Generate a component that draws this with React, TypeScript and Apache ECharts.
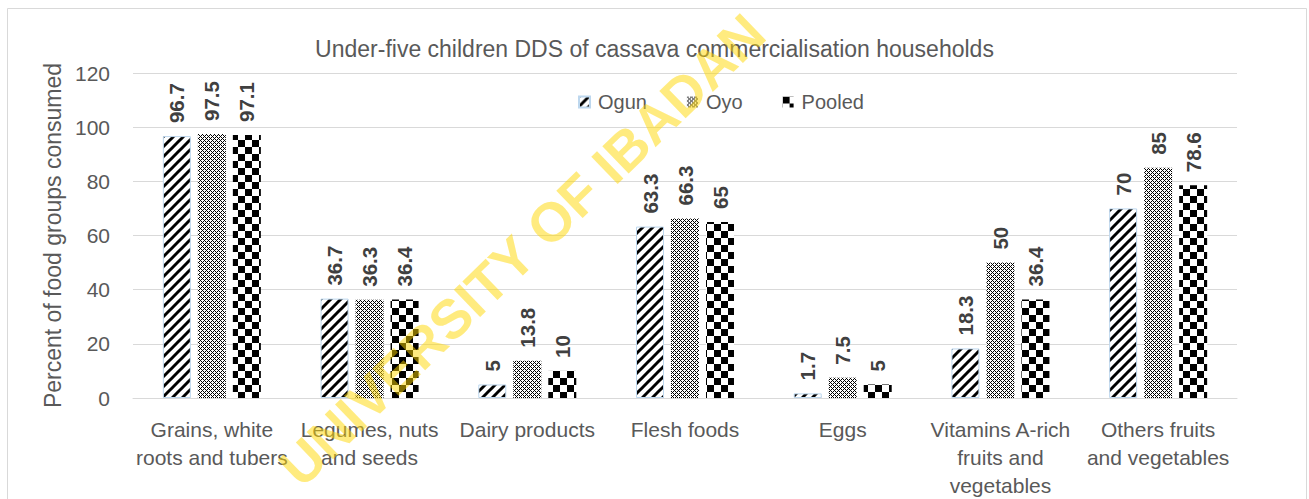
import React, { useEffect, useRef } from "react";
import * as echarts from "echarts";

const categories = [
  "Grains, white\nroots and tubers",
  "Legumes, nuts\nand seeds",
  "Dairy products",
  "Flesh foods",
  "Eggs",
  "Vitamins A-rich\nfruits and\nvegetables",
  "Others fruits\nand vegetables",
];
const seriesNames = ["Ogun", "Oyo", "Pooled"];
const ogun = [96.7, 36.7, 5, 63.3, 1.7, 18.3, 70];
const oyo = [97.5, 36.3, 13.8, 66.3, 7.5, 50, 85];
const pooled = [97.1, 36.4, 10, 65, 5, 36.4, 78.6];
const yTicks = { min: 0, max: 120, interval: 20 };

const TEXT = "#595959";
const FONT = "Liberation Sans";

function stripeTile(): string {
  const c = document.createElement("canvas");
  c.width = 10;
  c.height = 10;
  const g = c.getContext("2d")!;
  g.fillStyle = "#fff";
  g.fillRect(0, 0, 10, 10);
  g.strokeStyle = "#000";
  g.lineWidth = 3;
  for (const o of [-10, 0, 10]) {
    g.beginPath();
    g.moveTo(o - 2, 12);
    g.lineTo(o + 12, -2);
    g.stroke();
  }
  return c.toDataURL();
}

function dotTile(): string {
  const c = document.createElement("canvas");
  c.width = 4;
  c.height = 4;
  const g = c.getContext("2d")!;
  g.fillStyle = "#fff";
  g.fillRect(0, 0, 4, 4);
  g.fillStyle = "#000";
  for (let y = 0; y < 4; y++)
    for (let x = 0; x < 4; x++)
      if ((x + y) % 4 === 0 || (x - y + 4) % 4 === 0) g.fillRect(x, y, 1, 1);
  return c.toDataURL();
}

function checkerTile(): string {
  const s = 7;
  const c = document.createElement("canvas");
  c.width = 2 * s;
  c.height = 2 * s;
  const g = c.getContext("2d")!;
  g.fillStyle = "#fff";
  g.fillRect(0, 0, 2 * s, 2 * s);
  g.fillStyle = "#000";
  g.fillRect(0, 0, s, s);
  g.fillRect(s, s, s, s);
  return c.toDataURL();
}

export default function App() {
  const ref = useRef<HTMLDivElement>(null);
  useEffect(() => {
    if (!ref.current) return;
    const chart = echarts.init(ref.current, null, { renderer: "svg" });
    const patterns = [
      { image: stripeTile(), repeat: "repeat" },
      { image: dotTile(), repeat: "repeat" },
      { image: checkerTile(), repeat: "repeat" },
    ];
    const datasets = [ogun, oyo, pooled];
    const labelStyle = {
      show: true,
      position: "top",
      rotate: 90,
      align: "left",
      verticalAlign: "middle",
      distance: 13,
      fontWeight: "bold",
      fontSize: 20.5,
      fontFamily: FONT,
      color: "#404040",
    };
    chart.setOption({
      animation: false,
      backgroundColor: "#fff",
      title: {
        text: "Under-five children DDS of cassava commercialisation households",
        left: "center",
        top: 32,
        textStyle: { fontSize: 23, fontWeight: "normal", color: TEXT, fontFamily: FONT },
      },
      legend: {
        data: seriesNames,
        left: 573,
        top: 87,
        itemWidth: 11,
        itemHeight: 11,
        itemGap: 40,
        icon: "rect",
        textStyle: { fontSize: 20, color: TEXT, fontFamily: FONT, padding: [0, 0, 0, 3] },
      },
      grid: { left: 133, right: 72, top: 73, bottom: 99, containLabel: false },
      xAxis: {
        type: "category",
        data: categories,
        axisLine: { lineStyle: { color: "#D9D9D9", width: 1 } },
        axisTick: { show: false },
        axisLabel: {
          interval: 0,
          margin: 17,
          fontSize: 21,
          lineHeight: 28,
          color: TEXT,
          fontFamily: FONT,
        },
      },
      yAxis: {
        type: "value",
        ...yTicks,
        name: "Percent of food groups consumed",
        nameLocation: "middle",
        nameGap: 64,
        nameTextStyle: { fontSize: 23, color: TEXT, fontFamily: FONT },
        axisLine: { show: false },
        axisTick: { show: false },
        splitLine: { lineStyle: { color: "#D9D9D9", width: 1 } },
        axisLabel: { margin: 23, fontSize: 21, color: TEXT, fontFamily: FONT },
      },
      series: seriesNames.map((name, i) => ({
        name,
        type: "bar",
        data: datasets[i],
        barWidth: 28,
        barGap: "25%",
        itemStyle:
          i === 0
            ? { color: patterns[i], borderColor: "#BDD7EE", borderWidth: 1 }
            : { color: patterns[i] },
        label: labelStyle,
      })),
      graphic: [
        {
          type: "rect",
          shape: { x: 7.5, y: 8.5, width: 1299, height: 500 },
          style: { fill: "none", stroke: "#D9D9D9", lineWidth: 1 },
          silent: true,
          z: -1,
        },
        {
          type: "text",
          x: 522,
          y: 250,
          rotation: (44 * Math.PI) / 180,
          style: {
            text: "UNIVERSITY OF IBADAN",
            fill: "#FFD700",
            opacity: 0.5,
            fontSize: 55,
            fontWeight: "bold",
            fontFamily: FONT,
            align: "center",
            verticalAlign: "middle",
          },
          silent: true,
          z: 100,
        },
      ],
    });
    return () => chart.dispose();
  }, []);
  return (
    <div
      ref={ref}
      style={{ position: "absolute", left: 0, top: 0, width: 1309, height: 499 }}
    />
  );
}
